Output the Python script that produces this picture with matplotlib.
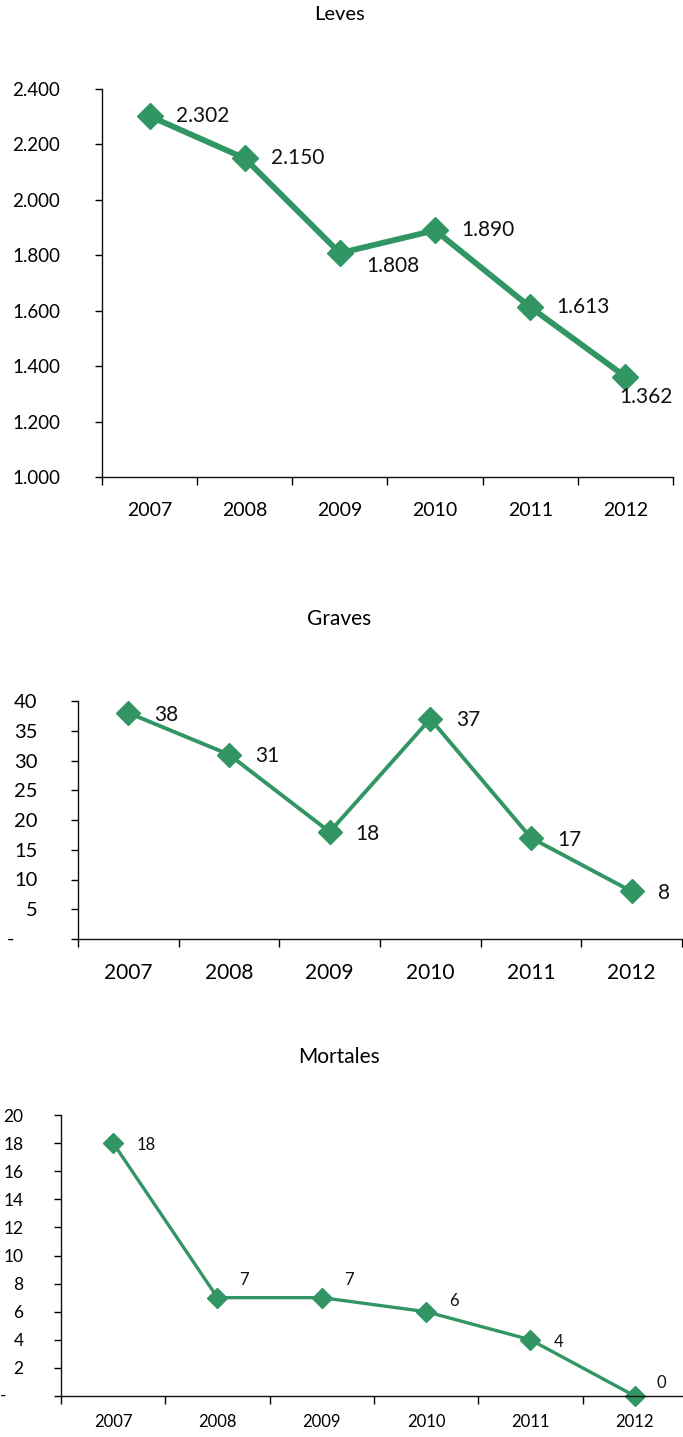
import numpy as np
import matplotlib.pyplot as plt
from matplotlib.ticker import FixedLocator, FuncFormatter

plt.rcParams['font.family'] = ['Lato', 'DejaVu Sans']

years = ['2007', '2008', '2009', '2010', '2011', '2012']
leves = [2302, 2150, 1808, 1890, 1613, 1362]
graves = [38, 31, 18, 37, 17, 8]
mortales = [18, 7, 7, 6, 4, 0]

# label offsets (pixels, dx right / dy up) as placed in the original
leves_off = [(26, 0), (26, 0), (26, -13), (26, 0), (26, 0), (-6, -20)]
graves_off = [(26, -2), (26, -1), (26, -2), (26, -1), (26, -2), (26, -2)]
mortales_off = [(23, -2), (22, 18), (22, 18), (23, 11), (23, -2), (22, 13)]

GREEN = '#319664'
W, H = 683, 1437
fig = plt.figure(figsize=(W / 100, H / 100), dpi=100)


def panel(rect, values, offsets, title, ylim, ystep, fmt, lw, ms, fs_tick, fs_x,
          fs_lab, fs_title, title_y, xpad, ypad, dash_x):
    l, t, r, b = rect
    ax = fig.add_axes([l / W, 1 - b / H, (r - l) / W, (b - t) / H])
    x = np.arange(len(values))
    ax.plot(x, values, color=GREEN, lw=lw, marker='D', ms=ms, clip_on=False)
    for xi, v, (dx, dy) in zip(x, values, offsets):
        ax.annotate(fmt(v), (xi, v), xytext=(dx * 0.72, dy * 0.72),
                    textcoords='offset points', ha='left', va='center',
                    fontsize=fs_lab, color='#111111')
    ax.set_xlim(-0.5, len(values) - 0.5)
    ax.set_ylim(*ylim)
    ax.set_yticks(np.arange(ylim[0], ylim[1] + ystep / 2, ystep))

    def yfmt(v, pos):
        if v == 0:
            return ''
        return fmt(v)
    ax.yaxis.set_major_formatter(FuncFormatter(yfmt))
    if dash_x is not None:
        ax.text((dash_x - l) / (r - l), 0, '-', transform=ax.get_yaxis_transform(),
                ha='center', va='center', fontsize=fs_tick, clip_on=False)
    ax.set_xticks(x)
    ax.set_xticklabels(years)
    ax.xaxis.set_minor_locator(FixedLocator(np.arange(-0.5, len(values), 1)))
    ax.tick_params(axis='x', which='major', length=0, pad=xpad, labelsize=fs_x)
    ax.tick_params(axis='x', which='minor', length=6, width=1, direction='out')
    ax.tick_params(axis='y', length=5, width=1, direction='out', labelsize=fs_tick,
                   pad=ypad)
    for s in ['top', 'right']:
        ax.spines[s].set_visible(False)
    for s in ['left', 'bottom']:
        ax.spines[s].set_linewidth(1)
        ax.spines[s].set_color('#111111')
    fig.text(339 / W, 1 - title_y / H, title, ha='center', va='center',
             fontsize=fs_title)
    return ax


def miles(v):
    return f'{v:,.0f}'.replace(',', '.')


def plain(v):
    return f'{v:.0f}'


panel((102, 89, 673, 477), leves, leves_off, 'Leves', (1000, 2400), 200, miles,
      4.2, 13, 13.5, 14, 15, 14.5, 15, 18, 25, None)
panel((78, 701, 682, 939), graves, graves_off, 'Graves', (0, 40), 5, plain,
      2.8, 12, 14.5, 15, 15, 15, 619, 17, 24, 11)
panel((61, 1115, 687, 1396), mortales, mortales_off, 'Mortales', (0, 20), 2, plain,
      2.4, 10.5, 12.5, 12, 12, 15, 1057, 13, 22, 3)

fig.savefig('out.png', dpi=100)
